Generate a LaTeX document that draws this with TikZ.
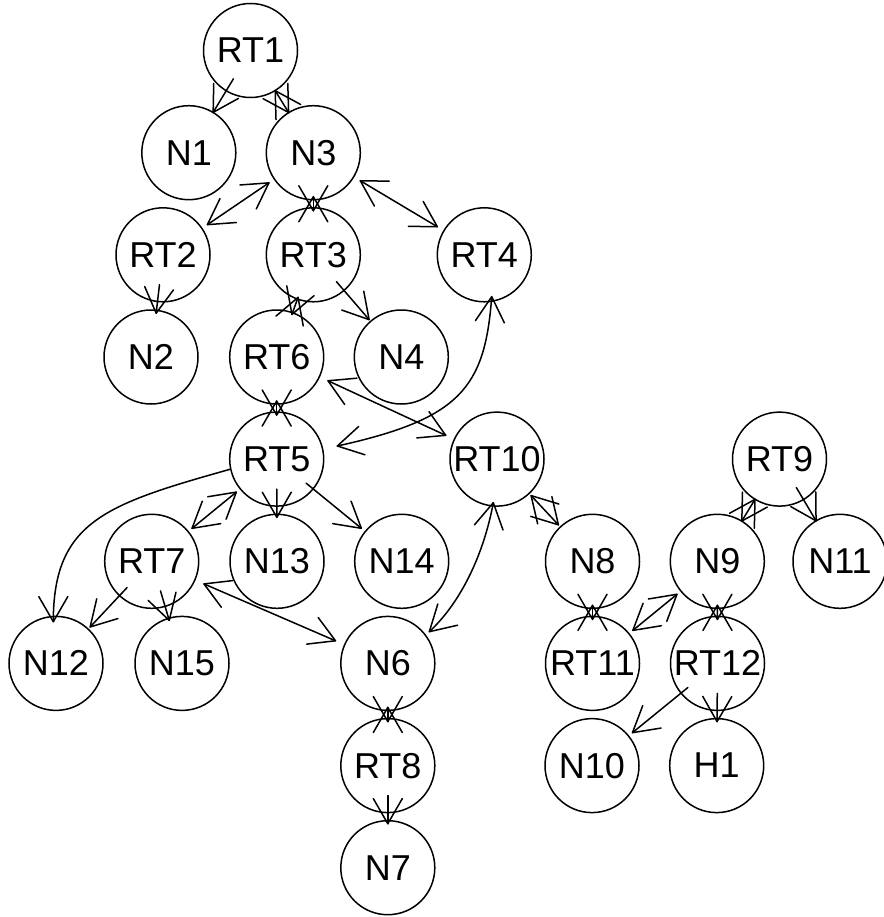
\documentclass[tikz,border=0pt]{standalone}
\usepackage{fontspec}
\setmainfont{Liberation Sans}
\usetikzlibrary{calc}
% radius of the (invisible) graphviz clipping ellipse in the direction #1 -> #2
\newcommand\gvrad[2]{%
  \pgfpointdiff{\pgfpointanchor{#1}{center}}{\pgfpointanchor{#2}{center}}%
  \pgfgetlastxy{\gvx}{\gvy}%
  \pgfmathsetmacro\gvL{veclen(\gvx,\gvy)}%
  \pgfmathsetmacro\gvr{2.684*\gvL/sqrt((0.044*\gvx)^2+(0.061*\gvy)^2)}%
}
% open V arrow head: tip #1, shaft running toward #2
\newcommand\gvbarb[2]{%
  \draw[gvline] ($(#1)!29pt!30:(#2)$) -- (#1) -- ($(#1)!29pt!-30:(#2)$);%
}
% one-way edge #1 -> #2
\newcommand\gvone[2]{%
  \gvrad{#1}{#2}%
  \coordinate (gvs) at ($(#1.center)!\gvr pt-14pt!(#2.center)$);%
  \coordinate (gvt) at ($(#2.center)!\gvr pt!(#1.center)$);%
  \draw[gvline] (gvs) -- (gvt);%
  \gvbarb{gvt}{#1.center}%
}
% two-way edge #1 <-> #2
\newcommand\gvboth[2]{%
  \gvrad{#1}{#2}%
  \coordinate (gva) at ($(#1.center)!\gvr pt!(#2.center)$);%
  \coordinate (gvb) at ($(#2.center)!\gvr pt!(#1.center)$);%
  \draw[gvline] (gva) -- (gvb);%
  \gvbarb{gva}{#2.center}\gvbarb{gvb}{#1.center}%
}
\begin{document}
\begin{tikzpicture}[x=1pt,y=-1pt,
  gvnode/.style={draw, circle, minimum size=94pt, inner sep=0pt, line width=1.5pt,
                 font=\fontsize{36}{36}\selectfont},
  gvline/.style={line width=1.5pt, line cap=round, line join=round}]
\useasboundingbox (0,0) rectangle (883,917);
\fill[white] (0,0) rectangle (883,917);

% nodes
\node[gvnode] (RT1)  at (250.5, 50.5) {RT1};
\node[gvnode] (N1)   at (188.8,152.7) {N1};
\node[gvnode] (N3)   at (313.3,152.7) {N3};
\node[gvnode] (RT2)  at (163.0,254.8) {RT2};
\node[gvnode] (RT3)  at (313.3,254.8) {RT3};
\node[gvnode] (RT4)  at (484.3,254.8) {RT4};
\node[gvnode] (N2)   at (151.0,357.0) {N2};
\node[gvnode] (RT6)  at (276.7,357.0) {RT6};
\node[gvnode] (N4)   at (401.3,357.0) {N4};
\node[gvnode] (RT5)  at (276.7,459.1) {RT5};
\node[gvnode] (RT10) at (497.0,459.1) {RT10};
\node[gvnode] (RT9)  at (779.5,459.1) {RT9};
\node[gvnode] (RT7)  at (151.7,561.3) {RT7};
\node[gvnode] (N13)  at (277.0,561.3) {N13};
\node[gvnode] (N14)  at (401.7,561.3) {N14};
\node[gvnode] (N8)   at (592.5,561.3) {N8};
\node[gvnode] (N9)   at (717.3,561.3) {N9};
\node[gvnode] (N11)  at (840.0,561.3) {N11};
\node[gvnode] (N12)  at (56.0,663.4) {N12};
\node[gvnode] (N15)  at (182.0,663.4) {N15};
\node[gvnode] (N6)   at (387.8,663.4) {N6};
\node[gvnode] (RT11) at (592.5,663.4) {RT11};
\node[gvnode] (RT12) at (717.5,663.4) {RT12};
\node[gvnode] (RT8)  at (387.8,765.6) {RT8};
\node[gvnode] (N10)  at (592.0,765.6) {N10};
\node[gvnode] (H1)   at (716.7,765.6) {H1};
\node[gvnode] (N7)   at (387.8,867.7) {N7};

% one-way edges
\gvone{RT1}{N1}
\gvone{RT2}{N2}
\gvone{RT3}{N4}
\gvone{RT5}{N13}
\gvone{RT5}{N14}
\gvone{RT7}{N12}
\gvone{RT7}{N15}
\gvone{RT9}{N11}
\gvone{RT12}{N10}
\gvone{RT12}{H1}
\gvone{RT8}{N7}

% two-way edges
\gvboth{RT1}{N3}
\gvboth{N3}{RT2}
\gvboth{N3}{RT3}
\gvboth{N3}{RT4}
\gvboth{RT3}{RT6}
\gvboth{RT6}{RT5}
\gvboth{RT6}{RT10}
\gvboth{RT5}{RT7}
\gvboth{RT7}{N6}
\gvboth{RT10}{N8}
\gvboth{N8}{RT11}
\gvboth{N9}{RT11}
\gvboth{RT9}{N9}
\gvboth{N9}{RT12}
\gvboth{N6}{RT8}

% curved RT4 <-> RT5
\coordinate (a0) at ($(RT4.center)+(7.4,41.9)$);
\coordinate (a1) at ($(RT4.center)+(0.7,133.2)$);
\coordinate (a2) at ($(RT5.center)+(183.3,-40.1)$);
\coordinate (a3) at ($(RT5.center)+(60.6,-13.1)$);
\draw[gvline] (a0) .. controls (a1) and (a2) .. (a3);
\gvbarb{a0}{a1}\gvbarb{a3}{a2}

% curved RT5 -> N12
\coordinate (b0) at ($(RT5.center)+(-46.7,10.2)$);
\coordinate (b1) at ($(RT5.center)+(-171.5,45.3)$);
\coordinate (b2) at ($(N12.center)+(-2.7,-141.7)$);
\coordinate (b3) at ($(N12.center)+(-2.7,-41.7)$);
\draw[gvline] (b0) .. controls (b1) and (b2) .. (b3);
\gvbarb{b3}{b2}

% curved RT10 <-> N6
\coordinate (c0) at ($(RT10.center)+(-3.7,43.6)$);
\coordinate (c1) at ($(RT10.center)+(-12.7,92.6)$);
\coordinate (c2) at ($(N6.center)+(74.4,-62.3)$);
\coordinate (c3) at ($(N6.center)+(41.5,-31.7)$);
\draw[gvline] (c0) .. controls (c1) and (c2) .. (c3);
\gvbarb{c0}{c1}\gvbarb{c3}{c2}
\end{tikzpicture}
\end{document}
